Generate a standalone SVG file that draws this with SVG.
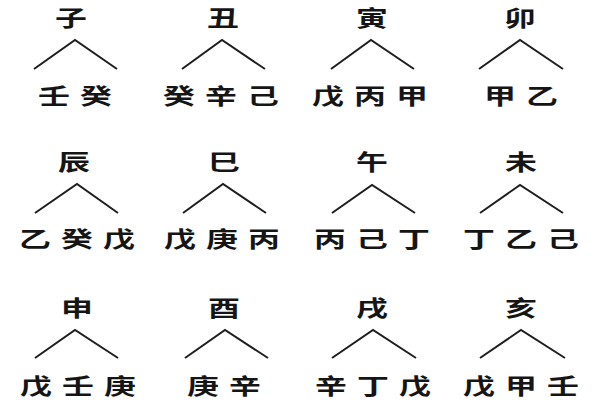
<svg xmlns="http://www.w3.org/2000/svg" width="600" height="400" viewBox="0 0 600 400">
<style>
text{font-family:"Noto Sans CJK SC","Noto Sans CJK JP",sans-serif;fill:#151515;text-anchor:middle;dominant-baseline:central;font-size:22px}
.br{font-weight:700}
.st{font-weight:700;letter-spacing:7px}
.cn polyline{fill:none;stroke:#1e1e1e;stroke-width:2;stroke-linejoin:miter}
</style>
<rect width="600" height="400" fill="#ffffff"/>
<g class="cn" id="connectors">
<polyline points="34,69 75,40 117,69"/>
<polyline points="182,69 222,40 265,69"/>
<polyline points="331,69 371,40 414,69"/>
<polyline points="479,69 520,40 563,69"/>
<polyline points="35,213 77,184 118,213"/>
<polyline points="183,213 223,184 266,213"/>
<polyline points="332,213 372,185 415,213"/>
<polyline points="480,213 520,185 563,213"/>
<polyline points="35,358 75,330 118,358"/>
<polyline points="185,358 225,330 268,358"/>
<polyline points="332,358 373,330 416,358"/>
<polyline points="480,358 521,330 565,358"/>
</g>
<g id="branch-zi"><text class="br" transform="translate(71,16) scale(1.45,1)">子</text></g>
<g id="branch-chou"><text class="br" transform="translate(223,16) scale(1.45,1)">丑</text></g>
<g id="branch-yin"><text class="br" transform="translate(372,16) scale(1.45,1)">寅</text></g>
<g id="branch-mao"><text class="br" transform="translate(520,16) scale(1.45,1)">卯</text></g>
<g id="stems-zi"><text class="st" x="3.5" transform="translate(75,94) scale(1.45,1)">壬癸</text></g>
<g id="stems-chou"><text class="st" x="3.5" transform="translate(221,94) scale(1.45,1)">癸辛己</text></g>
<g id="stems-yin"><text class="st" x="3.5" transform="translate(370,94) scale(1.45,1)">戊丙甲</text></g>
<g id="stems-mao"><text class="st" x="3.5" transform="translate(521,94) scale(1.45,1)">甲乙</text></g>
<g id="branch-chen"><text class="br" transform="translate(74,160) scale(1.45,1)">辰</text></g>
<g id="branch-si"><text class="br" transform="translate(224,160) scale(1.45,1)">巳</text></g>
<g id="branch-wu"><text class="br" transform="translate(372,160) scale(1.45,1)">午</text></g>
<g id="branch-wei"><text class="br" transform="translate(521,160) scale(1.45,1)">未</text></g>
<g id="stems-chen"><text class="st" x="3.5" transform="translate(77,237) scale(1.45,1)">乙癸戊</text></g>
<g id="stems-si"><text class="st" x="3.5" transform="translate(222,237) scale(1.45,1)">戊庚丙</text></g>
<g id="stems-wu"><text class="st" x="3.5" transform="translate(372,237) scale(1.45,1)">丙己丁</text></g>
<g id="stems-wei"><text class="st" x="3.5" transform="translate(521,237) scale(1.45,1)">丁乙己</text></g>
<g id="branch-shen"><text class="br" transform="translate(77,306) scale(1.45,1)">申</text></g>
<g id="branch-you"><text class="br" transform="translate(224,306) scale(1.45,1)">酉</text></g>
<g id="branch-xu"><text class="br" transform="translate(372,306) scale(1.45,1)">戌</text></g>
<g id="branch-hai"><text class="br" transform="translate(521,306) scale(1.45,1)">亥</text></g>
<g id="stems-shen"><text class="st" x="3.5" transform="translate(78,384) scale(1.45,1)">戊壬庚</text></g>
<g id="stems-you"><text class="st" x="3.5" transform="translate(224,384) scale(1.45,1)">庚辛</text></g>
<g id="stems-xu"><text class="st" x="3.5" transform="translate(373,384) scale(1.45,1)">辛丁戊</text></g>
<g id="stems-hai"><text class="st" x="3.5" transform="translate(521,384) scale(1.45,1)">戊甲壬</text></g>
</svg>
